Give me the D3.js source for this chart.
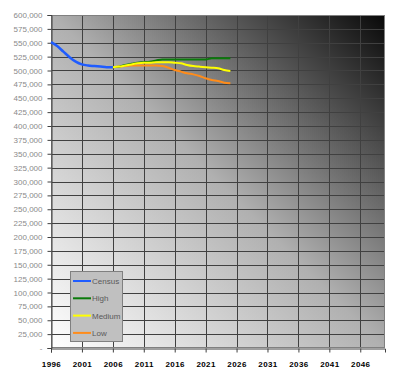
<!DOCTYPE html>
<html><head><meta charset="utf-8">
<script src="https://cdn.jsdelivr.net/npm/d3@7"></script>
<style>body{margin:0;background:#fff}svg{display:block}</style>
</head><body>
<svg id="c" width="400" height="388"></svg>
<script>
const xTicks = [1996,2001,2006,2011,2016,2021,2026,2031,2036,2041,2046];
const yTicks = d3.range(0, 600001, 25000);
const censusYears = [1996,1997,1998,1999,2000,2001,2002,2003,2004,2005,2006];
const censusValues = [551000,544000,534000,524000,516000,511000,509000,508000,507000,506000,506000];
const projYears = [2006,2007,2008,2009,2010,2011,2012,2013,2014,2015,2016,2017,2018,2019,2020,2021,2022,2023,2024,2025];
const highValues = [506000,507000,510000,512000,514000,515000,516000,518000,520000,520000,520000,520000,520000,520000,520000,520000,522000,522000,522000,522000];
const mediumValues = [506000,507000,509000,511000,513000,514000,514000,515000,515000,515000,514000,513000,510000,508000,507000,506000,505000,504000,501000,499000];
const lowValues = [506000,507000,508000,509000,509000,509000,509000,509000,508000,505000,501000,498000,495000,493000,490000,486000,483000,481000,478000,477000];
const seriesNames = ["Census","High","Medium","Low"];
const seriesColors = ["#1f5cff","#0a7a0a","#ffff00","#ff8c1a"];

const FONT = "Liberation Sans, Arial, sans-serif";
const svg = d3.select("#c");
const L=51, R=385, T=15, B=348;
const x = d3.scaleLinear().domain([1996,2050]).range([L,R]);
const y = d3.scaleLinear().domain([0,600000]).range([B,T]);

const defs = svg.append("defs");
const g = defs.append("linearGradient").attr("id","bg")
  .attr("x1",0).attr("y1",1).attr("x2",1).attr("y2",0);
g.append("stop").attr("offset",0).attr("stop-color","#ffffff");
g.append("stop").attr("offset",0.5).attr("stop-color","#b0b0b0");
g.append("stop").attr("offset",1).attr("stop-color","#080808");

svg.append("rect").attr("x",L).attr("y",T).attr("width",R-L).attr("height",B-T)
  .attr("fill","url(#bg)");

// gridlines
svg.append("g").selectAll("line").data(yTicks.filter(d=>d>0)).join("line")
  .attr("x1",L).attr("x2",R).attr("y1",d=>Math.round(y(d))+0.5).attr("y2",d=>Math.round(y(d))+0.5)
  .attr("stroke","#404040").attr("stroke-width",1);
svg.append("g").selectAll("line").data(xTicks.filter(d=>d>1996)).join("line")
  .attr("y1",T).attr("y2",B).attr("x1",d=>Math.round(x(d))+0.5).attr("x2",d=>Math.round(x(d))+0.5)
  .attr("stroke","#404040").attr("stroke-width",1);

svg.append("rect").attr("x",L+0.5).attr("y",T+0.5).attr("width",R-L-1).attr("height",B-T-1)
  .attr("fill","none").attr("stroke","#808080");

// axes
const yAxis = d3.axisLeft(y).tickValues(yTicks).tickSize(4).tickPadding(5)
  .tickFormat(d=> d===0 ? "-" : d3.format(",")(d));
const ya = svg.append("g").attr("transform",`translate(${L+0.5},0)`).call(yAxis);
ya.select(".domain").attr("stroke","#404040");
ya.selectAll(".tick line").attr("stroke","#404040");
ya.selectAll("text").attr("fill","#8a8a8a").attr("font-family",FONT)
  .attr("font-size","8px");

const xAxis = d3.axisBottom(x).tickValues(xTicks).tickSize(4).tickPadding(9).tickFormat(d3.format("d"));
const xa = svg.append("g").attr("transform",`translate(0,${B+0.5})`).call(xAxis);
xa.select(".domain").attr("stroke","#404040");
xa.selectAll(".tick line").attr("stroke","#404040");
xa.selectAll("text").attr("fill","#000").attr("font-family",FONT)
  .attr("font-size","8px").attr("font-weight","bold").attr("letter-spacing","0.4px");

// lines
const line = d3.line().x(d=>x(d[0])).y(d=>y(d[1])).curve(d3.curveMonotoneX);
const addLine = (years, vals, color, w) => svg.append("path")
  .datum(years.map((yr,i)=>[yr,vals[i]])).attr("d",line)
  .attr("fill","none").attr("stroke",color).attr("stroke-width",w).attr("stroke-linejoin","round");
addLine(projYears, lowValues, seriesColors[3], 2);
addLine(projYears, highValues, seriesColors[1], 2);
addLine(projYears, mediumValues, seriesColors[2], 2);
addLine(censusYears, censusValues, seriesColors[0], 2.5);

// legend
const lg = svg.append("g");
lg.append("rect").attr("x",70.5).attr("y",271.5).attr("width",52).attr("height",70)
  .attr("fill","#c0c0c0").attr("stroke","#808080");
seriesNames.forEach((n,i)=>{
  const cy = 281 + i*17.3;
  lg.append("line").attr("x1",73).attr("x2",91).attr("y1",cy).attr("y2",cy)
    .attr("stroke",seriesColors[i]).attr("stroke-width",2);
  lg.append("text").attr("x",92).attr("y",cy+3).text(n)
    .attr("fill","#5a5a5a").attr("font-family",FONT).attr("font-size","8px");
});
</script>
</body></html>
